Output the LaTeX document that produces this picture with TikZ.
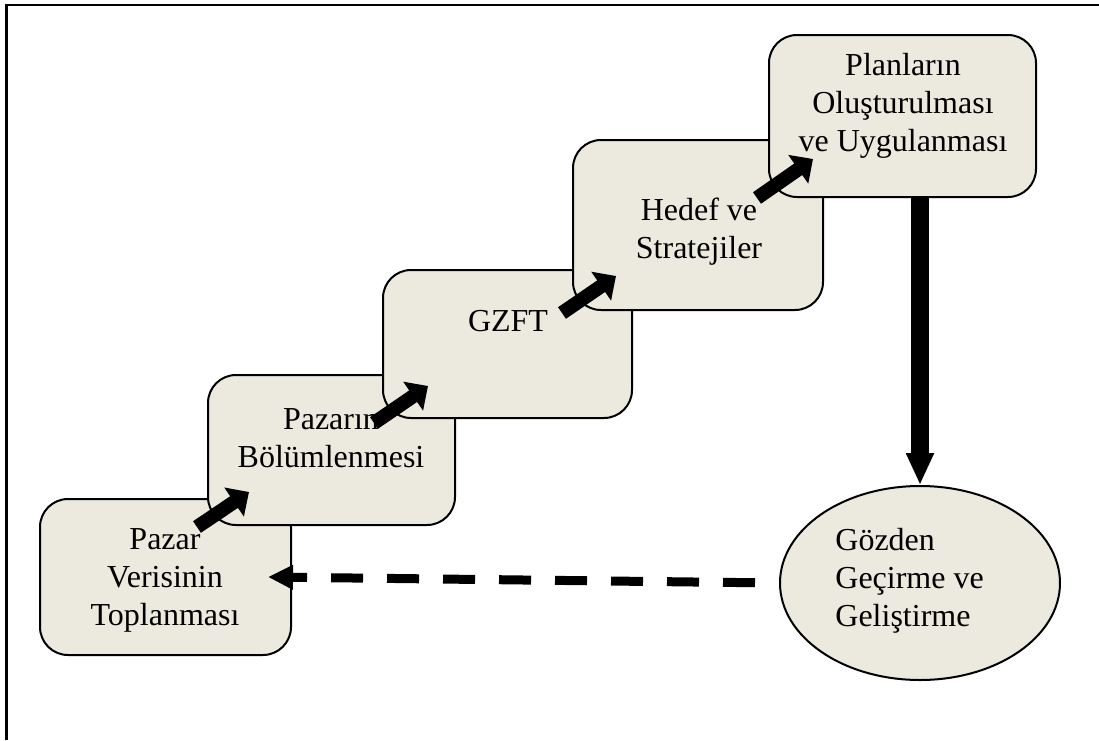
\documentclass[tikz,border=0pt]{standalone}
\usepackage{fontspec}
\setmainfont{Liberation Serif}
\usetikzlibrary{arrows.meta,shapes.geometric}
\definecolor{stagefill}{RGB}{236,233,223}
\begin{document}
\begin{tikzpicture}[x=0.5pt,y=-0.5pt,
  stage/.style={rectangle, draw=black, line width=1pt, fill=stagefill,
    rounded corners=14pt, inner sep=0pt},
  stagetext/.style={font=\fontsize{16}{19}\selectfont, align=center, inner sep=0pt},
  stairarrow/.style={line width=7pt, -{Triangle[length=9pt,width=17pt]}},
]
\useasboundingbox (0,0) rectangle (1099,740);
% page frame (top and left rules)
\draw[line width=1.1pt] (6.5,740) -- (6.5,5) -- (1099,5);

% the five stages, each one laid over the previous
\node[stage, minimum width=125.5pt, minimum height=78pt] (b1) at (165.5,577) {};
\node[stagetext] (t1) at (165,580) {Pazar\\Verisinin\\Toplanması};
\node[stage, minimum width=123.5pt, minimum height=75pt] (b2) at (331.5,450) {};
\node[stagetext] (t2) at (331,438) {Pazarın\\Bölümlenmesi};
\node[stage, minimum width=124.5pt, minimum height=74pt] (b3) at (507.5,344) {};
\node[stagetext] (t3) at (508,321) {GZFT};
\node[stage, minimum width=125pt, minimum height=85pt] (b4) at (698,225) {};
\node[stagetext] (t4) at (699,232) {Hedef ve\\Stratejiler};
\node[stage, minimum width=133.5pt, minimum height=81pt] (b5) at (902.5,116) {};
\node[stagetext] (t5) at (903,106) {Planların\\Oluşturulması\\ve Uygulanması};

% review ellipse
\node[ellipse, draw=black, line width=1pt, fill=stagefill, inner sep=0pt,
  minimum width=140pt, minimum height=97pt] (ov) at (920,583) {};
\node[stagetext, anchor=west, align=left] (t6) at (835,581) {Gözden\\Geçirme ve\\Geliştirme};

% step arrows
\coordinate (a1s) at (197,527);  \coordinate (a1e) at (249,492);
\coordinate (a2s) at (374,423);  \coordinate (a2e) at (428,386);
\coordinate (a3s) at (562,313);  \coordinate (a3e) at (616,276);
\coordinate (a4s) at (757,198);  \coordinate (a4e) at (813,159);
\draw[stairarrow] (a1s) -- (a1e);
\draw[stairarrow] (a2s) -- (a2e);
\draw[stairarrow] (a3s) -- (a3e);
\draw[stairarrow] (a4s) -- (a4e);

% plans down to review
\draw[line width=9pt, -{Triangle[length=16pt,width=13pt]}]
  (b5.south -| ov.north) -- (ov.north);

% feedback to the first stage
\draw[line width=4.5pt, dash pattern=on 16pt off 12pt, dash phase=16pt,
  -{Triangle[length=12.5pt,width=11.5pt]}]
  (ov.west) -- ([xshift=-12pt]b1.east);
\end{tikzpicture}
\end{document}
